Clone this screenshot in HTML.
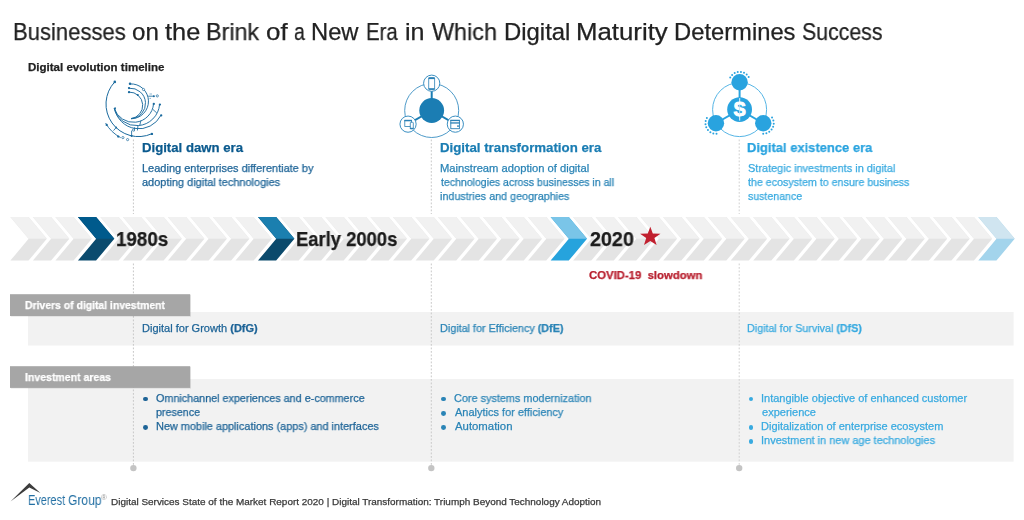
<!DOCTYPE html><html><head><meta charset="utf-8"><style>
html,body{margin:0;padding:0;background:#fff;}
body{width:1024px;height:520px;overflow:hidden;position:relative;font-family:"Liberation Sans",sans-serif;}
.t{position:absolute;white-space:nowrap;will-change:transform;-webkit-text-stroke:0.25px currentColor;}
.t b{font-weight:bold;}
svg{position:absolute;left:0;top:0;}
</style></head><body>
<svg width="1024" height="520" viewBox="0 0 1024 520"><rect x="28" y="312" width="985.6" height="33.5" fill="#f2f2f2"/><rect x="28" y="379" width="985.6" height="82.7" fill="#f2f2f2"/><polygon points="10.40,217.1 28.55,217.1 46.80,238.85 28.55,260.6 10.40,260.6 28.65,238.85" fill="#e4e4e4"/><polygon points="10.40,217.1 28.55,217.1 46.80,238.85 28.65,238.85" fill="#f1f1f1"/><polygon points="32.91,217.1 51.06,217.1 69.31,238.85 51.06,260.6 32.91,260.6 51.16,238.85" fill="#e4e4e4"/><polygon points="32.91,217.1 51.06,217.1 69.31,238.85 51.16,238.85" fill="#f1f1f1"/><polygon points="55.42,217.1 73.57,217.1 91.82,238.85 73.57,260.6 55.42,260.6 73.67,238.85" fill="#e4e4e4"/><polygon points="55.42,217.1 73.57,217.1 91.82,238.85 73.67,238.85" fill="#f1f1f1"/><polygon points="77.93,217.1 96.08,217.1 114.33,238.85 96.08,260.6 77.93,260.6 96.18,238.85" fill="#0b4b6e"/><polygon points="77.93,217.1 96.08,217.1 114.33,238.85 96.18,238.85" fill="#005a8c"/><polygon points="100.44,217.1 118.59,217.1 136.84,238.85 118.59,260.6 100.44,260.6 118.69,238.85" fill="#e4e4e4"/><polygon points="100.44,217.1 118.59,217.1 136.84,238.85 118.69,238.85" fill="#f1f1f1"/><polygon points="122.95,217.1 141.09,217.1 159.34,238.85 141.09,260.6 122.95,260.6 141.19,238.85" fill="#e4e4e4"/><polygon points="122.95,217.1 141.09,217.1 159.34,238.85 141.19,238.85" fill="#f1f1f1"/><polygon points="145.45,217.1 163.60,217.1 181.85,238.85 163.60,260.6 145.45,260.6 163.70,238.85" fill="#e4e4e4"/><polygon points="145.45,217.1 163.60,217.1 181.85,238.85 163.70,238.85" fill="#f1f1f1"/><polygon points="167.96,217.1 186.11,217.1 204.36,238.85 186.11,260.6 167.96,260.6 186.21,238.85" fill="#e4e4e4"/><polygon points="167.96,217.1 186.11,217.1 204.36,238.85 186.21,238.85" fill="#f1f1f1"/><polygon points="190.47,217.1 208.62,217.1 226.87,238.85 208.62,260.6 190.47,260.6 208.72,238.85" fill="#e4e4e4"/><polygon points="190.47,217.1 208.62,217.1 226.87,238.85 208.72,238.85" fill="#f1f1f1"/><polygon points="212.98,217.1 231.13,217.1 249.38,238.85 231.13,260.6 212.98,260.6 231.23,238.85" fill="#e4e4e4"/><polygon points="212.98,217.1 231.13,217.1 249.38,238.85 231.23,238.85" fill="#f1f1f1"/><polygon points="235.49,217.1 253.64,217.1 271.89,238.85 253.64,260.6 235.49,260.6 253.74,238.85" fill="#e4e4e4"/><polygon points="235.49,217.1 253.64,217.1 271.89,238.85 253.74,238.85" fill="#f1f1f1"/><polygon points="258.00,217.1 276.15,217.1 294.40,238.85 276.15,260.6 258.00,260.6 276.25,238.85" fill="#0b4a6c"/><polygon points="258.00,217.1 276.15,217.1 294.40,238.85 276.25,238.85" fill="#1b7faf"/><polygon points="280.51,217.1 298.66,217.1 316.91,238.85 298.66,260.6 280.51,260.6 298.76,238.85" fill="#e4e4e4"/><polygon points="280.51,217.1 298.66,217.1 316.91,238.85 298.76,238.85" fill="#f1f1f1"/><polygon points="303.02,217.1 321.17,217.1 339.42,238.85 321.17,260.6 303.02,260.6 321.27,238.85" fill="#e4e4e4"/><polygon points="303.02,217.1 321.17,217.1 339.42,238.85 321.27,238.85" fill="#f1f1f1"/><polygon points="325.53,217.1 343.68,217.1 361.93,238.85 343.68,260.6 325.53,260.6 343.78,238.85" fill="#e4e4e4"/><polygon points="325.53,217.1 343.68,217.1 361.93,238.85 343.78,238.85" fill="#f1f1f1"/><polygon points="348.03,217.1 366.18,217.1 384.43,238.85 366.18,260.6 348.03,260.6 366.28,238.85" fill="#e4e4e4"/><polygon points="348.03,217.1 366.18,217.1 384.43,238.85 366.28,238.85" fill="#f1f1f1"/><polygon points="370.54,217.1 388.69,217.1 406.94,238.85 388.69,260.6 370.54,260.6 388.79,238.85" fill="#e4e4e4"/><polygon points="370.54,217.1 388.69,217.1 406.94,238.85 388.79,238.85" fill="#f1f1f1"/><polygon points="393.05,217.1 411.20,217.1 429.45,238.85 411.20,260.6 393.05,260.6 411.30,238.85" fill="#e4e4e4"/><polygon points="393.05,217.1 411.20,217.1 429.45,238.85 411.30,238.85" fill="#f1f1f1"/><polygon points="415.56,217.1 433.71,217.1 451.96,238.85 433.71,260.6 415.56,260.6 433.81,238.85" fill="#e4e4e4"/><polygon points="415.56,217.1 433.71,217.1 451.96,238.85 433.81,238.85" fill="#f1f1f1"/><polygon points="438.07,217.1 456.22,217.1 474.47,238.85 456.22,260.6 438.07,260.6 456.32,238.85" fill="#e4e4e4"/><polygon points="438.07,217.1 456.22,217.1 474.47,238.85 456.32,238.85" fill="#f1f1f1"/><polygon points="460.58,217.1 478.73,217.1 496.98,238.85 478.73,260.6 460.58,260.6 478.83,238.85" fill="#e4e4e4"/><polygon points="460.58,217.1 478.73,217.1 496.98,238.85 478.83,238.85" fill="#f1f1f1"/><polygon points="483.09,217.1 501.24,217.1 519.49,238.85 501.24,260.6 483.09,260.6 501.34,238.85" fill="#e4e4e4"/><polygon points="483.09,217.1 501.24,217.1 519.49,238.85 501.34,238.85" fill="#f1f1f1"/><polygon points="505.60,217.1 523.75,217.1 542.00,238.85 523.75,260.6 505.60,260.6 523.85,238.85" fill="#e4e4e4"/><polygon points="505.60,217.1 523.75,217.1 542.00,238.85 523.85,238.85" fill="#f1f1f1"/><polygon points="528.11,217.1 546.26,217.1 564.51,238.85 546.26,260.6 528.11,260.6 546.36,238.85" fill="#e4e4e4"/><polygon points="528.11,217.1 546.26,217.1 564.51,238.85 546.36,238.85" fill="#f1f1f1"/><polygon points="550.62,217.1 568.77,217.1 587.02,238.85 568.77,260.6 550.62,260.6 568.87,238.85" fill="#26a3dd"/><polygon points="550.62,217.1 568.77,217.1 587.02,238.85 568.87,238.85" fill="#7ac5e8"/><polygon points="573.12,217.1 591.27,217.1 609.52,238.85 591.27,260.6 573.12,260.6 591.38,238.85" fill="#e4e4e4"/><polygon points="573.12,217.1 591.27,217.1 609.52,238.85 591.38,238.85" fill="#f1f1f1"/><polygon points="595.63,217.1 613.78,217.1 632.03,238.85 613.78,260.6 595.63,260.6 613.88,238.85" fill="#e4e4e4"/><polygon points="595.63,217.1 613.78,217.1 632.03,238.85 613.88,238.85" fill="#f1f1f1"/><polygon points="618.14,217.1 636.29,217.1 654.54,238.85 636.29,260.6 618.14,260.6 636.39,238.85" fill="#e4e4e4"/><polygon points="618.14,217.1 636.29,217.1 654.54,238.85 636.39,238.85" fill="#f1f1f1"/><polygon points="640.65,217.1 658.80,217.1 677.05,238.85 658.80,260.6 640.65,260.6 658.90,238.85" fill="#e4e4e4"/><polygon points="640.65,217.1 658.80,217.1 677.05,238.85 658.90,238.85" fill="#f1f1f1"/><polygon points="663.16,217.1 681.31,217.1 699.56,238.85 681.31,260.6 663.16,260.6 681.41,238.85" fill="#e4e4e4"/><polygon points="663.16,217.1 681.31,217.1 699.56,238.85 681.41,238.85" fill="#f1f1f1"/><polygon points="685.67,217.1 703.82,217.1 722.07,238.85 703.82,260.6 685.67,260.6 703.92,238.85" fill="#e4e4e4"/><polygon points="685.67,217.1 703.82,217.1 722.07,238.85 703.92,238.85" fill="#f1f1f1"/><polygon points="708.18,217.1 726.33,217.1 744.58,238.85 726.33,260.6 708.18,260.6 726.43,238.85" fill="#e4e4e4"/><polygon points="708.18,217.1 726.33,217.1 744.58,238.85 726.43,238.85" fill="#f1f1f1"/><polygon points="730.69,217.1 748.84,217.1 767.09,238.85 748.84,260.6 730.69,260.6 748.94,238.85" fill="#e4e4e4"/><polygon points="730.69,217.1 748.84,217.1 767.09,238.85 748.94,238.85" fill="#f1f1f1"/><polygon points="753.20,217.1 771.35,217.1 789.60,238.85 771.35,260.6 753.20,260.6 771.45,238.85" fill="#e4e4e4"/><polygon points="753.20,217.1 771.35,217.1 789.60,238.85 771.45,238.85" fill="#f1f1f1"/><polygon points="775.71,217.1 793.86,217.1 812.11,238.85 793.86,260.6 775.71,260.6 793.96,238.85" fill="#e4e4e4"/><polygon points="775.71,217.1 793.86,217.1 812.11,238.85 793.96,238.85" fill="#f1f1f1"/><polygon points="798.22,217.1 816.37,217.1 834.62,238.85 816.37,260.6 798.22,260.6 816.47,238.85" fill="#e4e4e4"/><polygon points="798.22,217.1 816.37,217.1 834.62,238.85 816.47,238.85" fill="#f1f1f1"/><polygon points="820.72,217.1 838.87,217.1 857.12,238.85 838.87,260.6 820.72,260.6 838.97,238.85" fill="#e4e4e4"/><polygon points="820.72,217.1 838.87,217.1 857.12,238.85 838.97,238.85" fill="#f1f1f1"/><polygon points="843.23,217.1 861.38,217.1 879.63,238.85 861.38,260.6 843.23,260.6 861.48,238.85" fill="#e4e4e4"/><polygon points="843.23,217.1 861.38,217.1 879.63,238.85 861.48,238.85" fill="#f1f1f1"/><polygon points="865.74,217.1 883.89,217.1 902.14,238.85 883.89,260.6 865.74,260.6 883.99,238.85" fill="#e4e4e4"/><polygon points="865.74,217.1 883.89,217.1 902.14,238.85 883.99,238.85" fill="#f1f1f1"/><polygon points="888.25,217.1 906.40,217.1 924.65,238.85 906.40,260.6 888.25,260.6 906.50,238.85" fill="#e4e4e4"/><polygon points="888.25,217.1 906.40,217.1 924.65,238.85 906.50,238.85" fill="#f1f1f1"/><polygon points="910.76,217.1 928.91,217.1 947.16,238.85 928.91,260.6 910.76,260.6 929.01,238.85" fill="#e4e4e4"/><polygon points="910.76,217.1 928.91,217.1 947.16,238.85 929.01,238.85" fill="#f1f1f1"/><polygon points="933.27,217.1 951.42,217.1 969.67,238.85 951.42,260.6 933.27,260.6 951.52,238.85" fill="#e4e4e4"/><polygon points="933.27,217.1 951.42,217.1 969.67,238.85 951.52,238.85" fill="#f1f1f1"/><polygon points="955.78,217.1 973.93,217.1 992.18,238.85 973.93,260.6 955.78,260.6 974.03,238.85" fill="#e4e4e4"/><polygon points="955.78,217.1 973.93,217.1 992.18,238.85 974.03,238.85" fill="#f1f1f1"/><polygon points="978.29,217.1 996.44,217.1 1014.69,238.85 996.44,260.6 978.29,260.6 996.54,238.85" fill="#a3d4ec"/><polygon points="978.29,217.1 996.44,217.1 1014.69,238.85 996.54,238.85" fill="#d0e5f0"/><line x1="133.4" y1="139.5" x2="133.4" y2="214" stroke="#c8c8c8" stroke-width="1" stroke-dasharray="1.8 1.7"/><line x1="133.4" y1="263.5" x2="133.4" y2="465" stroke="#c8c8c8" stroke-width="1" stroke-dasharray="1.8 1.7"/><circle cx="133.4" cy="468.1" r="3.2" fill="#c4c4c4"/><line x1="431.3" y1="139.5" x2="431.3" y2="214" stroke="#c8c8c8" stroke-width="1" stroke-dasharray="1.8 1.7"/><line x1="431.3" y1="263.5" x2="431.3" y2="465" stroke="#c8c8c8" stroke-width="1" stroke-dasharray="1.8 1.7"/><circle cx="431.3" cy="468.1" r="3.2" fill="#c4c4c4"/><line x1="739.2" y1="139.5" x2="739.2" y2="214" stroke="#d0d0d0" stroke-width="1" stroke-dasharray="1.8 1.7"/><line x1="739.2" y1="263.5" x2="739.2" y2="465" stroke="#d0d0d0" stroke-width="1" stroke-dasharray="1.8 1.7"/><circle cx="739.2" cy="468.1" r="3.2" fill="#c4c4c4"/><rect x="10.8" y="295" width="180.2" height="21.8" fill="#000" opacity="0.08"/><rect x="10.8" y="367" width="180.2" height="21.7" fill="#000" opacity="0.08"/><rect x="10" y="294.2" width="180.2" height="21.8" fill="#a6a6a6"/><rect x="10" y="366.2" width="180.2" height="21.7" fill="#a6a6a6"/><g transform="translate(650.3,236.8) scale(1,0.95)"><polygon points="0.00,-10.70 2.53,-3.48 10.18,-3.31 4.09,1.33 6.29,8.66 0.00,4.30 -6.29,8.66 -4.09,1.33 -10.18,-3.31 -2.53,-3.48" fill="#c1202f"/></g><circle cx="431.7" cy="110.5" r="27" fill="none" stroke="#3a8fc2" stroke-width="0.9"/><line x1="431.7" y1="110.5" x2="431.70" y2="83.20" stroke="#1b7db3" stroke-width="2"/><line x1="431.7" y1="110.5" x2="408.06" y2="124.15" stroke="#1b7db3" stroke-width="2"/><line x1="431.7" y1="110.5" x2="455.34" y2="124.15" stroke="#1b7db3" stroke-width="2"/><circle cx="431.7" cy="110.5" r="12.4" fill="#1b7db3"/><circle cx="431.70" cy="83.20" r="8.1" fill="#fff" stroke="#3a8fc2" stroke-width="1"/><circle cx="408.06" cy="124.15" r="8.1" fill="#fff" stroke="#3a8fc2" stroke-width="1"/><circle cx="455.34" cy="124.15" r="8.1" fill="#fff" stroke="#3a8fc2" stroke-width="1"/><rect x="428.7" y="77.7" width="5.9" height="11.8" rx="0.8" fill="none" stroke="#2a80b5" stroke-width="0.8"/><rect x="428.5" y="77.4" width="6.3" height="1.7" fill="#2a80b5"/><rect x="428.5" y="88.2" width="6.3" height="1.5" fill="#2a80b5"/><rect x="404.8" y="120.3" width="6.8" height="6.2" fill="none" stroke="#2a80b5" stroke-width="0.8"/><rect x="404.4" y="119.9" width="7.6" height="1.4" fill="#2a80b5"/><rect x="410.3" y="122.3" width="3" height="6.5" rx="0.6" fill="#fff" stroke="#2a80b5" stroke-width="0.8"/><rect x="409.9" y="127.8" width="3.8" height="1.3" fill="#2a80b5"/><rect x="450.8" y="120.3" width="8.6" height="8.4" fill="none" stroke="#2a80b5" stroke-width="0.9"/><rect x="450.4" y="119.9" width="9.4" height="1.2" fill="#2a80b5"/><rect x="450.4" y="122.3" width="9.4" height="1.3" fill="#2a80b5"/><rect x="457.1" y="125.4" width="1.8" height="1.4" fill="#2a80b5"/><circle cx="739.6" cy="109.6" r="27" fill="none" stroke="#43ade2" stroke-width="0.9"/><line x1="739.6" y1="109.6" x2="739.60" y2="82.30" stroke="#29a3df" stroke-width="2"/><line x1="739.6" y1="109.6" x2="715.96" y2="123.25" stroke="#29a3df" stroke-width="2"/><line x1="739.6" y1="109.6" x2="763.24" y2="123.25" stroke="#29a3df" stroke-width="2"/><circle cx="739.6" cy="109.6" r="12.4" fill="#29a3df"/><circle cx="739.60" cy="82.30" r="8.2" fill="#29a3df"/><circle cx="715.96" cy="123.25" r="8.2" fill="#29a3df"/><circle cx="763.24" cy="123.25" r="8.2" fill="#29a3df"/><circle cx="730.24" cy="77.55" r="1.0" fill="#29a3df"/><circle cx="732.11" cy="74.94" r="1.0" fill="#29a3df"/><circle cx="734.69" cy="73.02" r="1.0" fill="#29a3df"/><circle cx="737.72" cy="71.97" r="1.0" fill="#29a3df"/><circle cx="740.93" cy="71.89" r="1.0" fill="#29a3df"/><circle cx="744.02" cy="72.78" r="1.0" fill="#29a3df"/><circle cx="746.69" cy="74.56" r="1.0" fill="#29a3df"/><circle cx="748.70" cy="77.07" r="1.0" fill="#29a3df"/><circle cx="716.53" cy="133.73" r="1.0" fill="#29a3df"/><circle cx="713.33" cy="133.42" r="1.0" fill="#29a3df"/><circle cx="710.38" cy="132.14" r="1.0" fill="#29a3df"/><circle cx="707.95" cy="130.04" r="1.0" fill="#29a3df"/><circle cx="706.27" cy="127.30" r="1.0" fill="#29a3df"/><circle cx="705.50" cy="124.18" r="1.0" fill="#29a3df"/><circle cx="705.71" cy="120.98" r="1.0" fill="#29a3df"/><circle cx="706.87" cy="117.98" r="1.0" fill="#29a3df"/><circle cx="772.04" cy="117.52" r="1.0" fill="#29a3df"/><circle cx="773.36" cy="120.44" r="1.0" fill="#29a3df"/><circle cx="773.74" cy="123.63" r="1.0" fill="#29a3df"/><circle cx="773.13" cy="126.79" r="1.0" fill="#29a3df"/><circle cx="771.59" cy="129.61" r="1.0" fill="#29a3df"/><circle cx="769.28" cy="131.84" r="1.0" fill="#29a3df"/><circle cx="766.40" cy="133.26" r="1.0" fill="#29a3df"/><circle cx="763.22" cy="133.75" r="1.0" fill="#29a3df"/><line x1="739.70" y1="98.10" x2="739.70" y2="120.60" stroke="#fff" stroke-width="0.9"/><text transform="translate(739.70,116.10) scale(0.93,1)" text-anchor="middle" font-family="Liberation Sans" font-weight="bold" font-size="20" fill="#fff" stroke="#fff" stroke-width="1.0">S</text><line x1="739.70" y1="104.60" x2="739.70" y2="114.60" stroke="#29a3df" stroke-width="0.5" opacity="0.6"/><path d="M114.77,81.89 A32.5,32.5 0 0 0 151.82,133.74" fill="none" stroke="#1a6a9e" stroke-width="1.0"/><path d="M130.03,83.94 A17.43,17.43 0 1 1 131.00,118.77" fill="none" stroke="#1a6a9e" stroke-width="0.95"/><path d="M129.00,88.23 A15.25,15.25 0 1 1 131.00,118.66" fill="none" stroke="#1a6a9e" stroke-width="0.95"/><path d="M129.01,92.10 A13.28,13.28 0 0 1 131.00,118.56" fill="none" stroke="#1a6a9e" stroke-width="0.95"/><path d="M114.23,108.21 A20.16,20.16 0 0 0 153.55,103.84" fill="none" stroke="#1a6a9e" stroke-width="0.95"/><path d="M114.16,108.20 A23.09,23.09 0 0 0 159.56,104.54" fill="none" stroke="#1a6a9e" stroke-width="0.95"/><path d="M114.53,108.06 A24.7,24.7 0 0 0 160.94,115.25" fill="none" stroke="#1a6a9e" stroke-width="0.95"/><path d="M120.66,137.65 A38,38 0 0 1 105.59,123.10" fill="none" stroke="#1a6a9e" stroke-width="0.9"/><line x1="113.5" y1="130.6" x2="116.2" y2="127.5" stroke="#1a6a9e" stroke-width="0.85"/><line x1="131.6" y1="130.6" x2="131.6" y2="136" stroke="#1a6a9e" stroke-width="0.85"/><line x1="134.7" y1="127.2" x2="134.2" y2="131.2" stroke="#1a6a9e" stroke-width="0.85"/><line x1="138" y1="125.2" x2="137.4" y2="130.5" stroke="#1a6a9e" stroke-width="0.85"/><line x1="140.8" y1="120.8" x2="139.8" y2="125.2" stroke="#1a6a9e" stroke-width="0.85"/><line x1="152.9" y1="109.4" x2="156.9" y2="113.1" stroke="#1a6a9e" stroke-width="0.85"/><line x1="148.2" y1="96.2" x2="154" y2="96.2" stroke="#1a6a9e" stroke-width="0.85"/><circle cx="114.8" cy="81.9" r="1.3" fill="#1a6a9e"/><circle cx="151.9" cy="133.9" r="1.2" fill="#1a6a9e"/><circle cx="130" cy="83.7" r="1.25" fill="#1a6a9e"/><circle cx="129" cy="88.1" r="1.15" fill="#1a6a9e"/><circle cx="129" cy="92.2" r="1.15" fill="#1a6a9e"/><circle cx="153.9" cy="96.2" r="1.0" fill="#1a6a9e"/><circle cx="153.8" cy="103.9" r="1.15" fill="#1a6a9e"/><circle cx="159.9" cy="104.6" r="1.15" fill="#1a6a9e"/><circle cx="161.2" cy="115.4" r="1.15" fill="#1a6a9e"/><circle cx="106.7" cy="124.9" r="1.15" fill="#1a6a9e"/><circle cx="118.2" cy="136.6" r="1.15" fill="#1a6a9e"/><circle cx="137.8" cy="94.9" r="1.0" fill="#1a6a9e"/><circle cx="131.6" cy="136" r="1.0" fill="#1a6a9e"/><circle cx="116.2" cy="127.5" r="0.9" fill="#1a6a9e"/><circle cx="115.1" cy="108.2" r="0.9" fill="#1a6a9e"/><circle cx="122.9" cy="137.6" r="1.1" fill="#fff" stroke="#1a6a9e" stroke-width="0.7"/><circle cx="127.6" cy="139.6" r="1.1" fill="#fff" stroke="#1a6a9e" stroke-width="0.7"/><circle cx="157.3" cy="95.9" r="1.1" fill="#fff" stroke="#1a6a9e" stroke-width="0.7"/><circle cx="143.5" cy="89.5" r="1.1" fill="#fff" stroke="#1a6a9e" stroke-width="0.7"/><circle cx="133.5" cy="130" r="1.1" fill="#fff" stroke="#1a6a9e" stroke-width="0.7"/><line x1="149.5" y1="94" x2="152" y2="94" stroke="#1a6a9e" stroke-width="0.5"/><line x1="149.5" y1="98.4" x2="151" y2="98.4" stroke="#1a6a9e" stroke-width="0.5"/><polygon points="10.5,501.6 29.3,483.1 40.4,492.9 29.3,487.6" fill="#3d3d3d"/></svg><div class="t" style="left:13.19px;top:19.00px;font-size:23.7px;line-height:26px;color:#222222;font-weight:normal;transform:scale(0.9312,1.000);transform-origin:0 21px;">Businesses</div>
<div class="t" style="left:132.49px;top:19.00px;font-size:23.7px;line-height:26px;color:#222222;font-weight:normal;transform:scale(1.0177,1.000);transform-origin:0 21px;">on</div>
<div class="t" style="left:165.22px;top:19.00px;font-size:23.7px;line-height:26px;color:#222222;font-weight:normal;transform:scale(1.0718,1.000);transform-origin:0 21px;">the</div>
<div class="t" style="left:206.19px;top:19.00px;font-size:23.7px;line-height:26px;color:#222222;font-weight:normal;transform:scale(0.9848,1.000);transform-origin:0 21px;">Brink</div>
<div class="t" style="left:265.81px;top:19.00px;font-size:23.7px;line-height:26px;color:#222222;font-weight:normal;transform:scale(1.0955,1.000);transform-origin:0 21px;">of</div>
<div class="t" style="left:293.57px;top:19.00px;font-size:23.7px;line-height:26px;color:#222222;font-weight:normal;transform:scale(0.8214,1.000);transform-origin:0 21px;">a</div>
<div class="t" style="left:311.15px;top:19.00px;font-size:23.7px;line-height:26px;color:#222222;font-weight:normal;transform:scale(1.0027,1.000);transform-origin:0 21px;">New</div>
<div class="t" style="left:366.08px;top:19.00px;font-size:23.7px;line-height:26px;color:#222222;font-weight:normal;transform:scale(0.8586,1.000);transform-origin:0 21px;">Era</div>
<div class="t" style="left:405.22px;top:19.00px;font-size:23.7px;line-height:26px;color:#222222;font-weight:normal;transform:scale(1.0573,1.000);transform-origin:0 21px;">in</div>
<div class="t" style="left:432.15px;top:19.00px;font-size:23.7px;line-height:26px;color:#222222;font-weight:normal;transform:scale(0.9867,1.000);transform-origin:0 21px;">Which</div>
<div class="t" style="left:503.64px;top:19.00px;font-size:23.7px;line-height:26px;color:#222222;font-weight:normal;transform:scale(1.0091,1.000);transform-origin:0 21px;">Digital</div>
<div class="t" style="left:575.98px;top:19.00px;font-size:23.7px;line-height:26px;color:#222222;font-weight:normal;transform:scale(1.0894,1.000);transform-origin:0 21px;">Maturity</div>
<div class="t" style="left:674.30px;top:19.00px;font-size:23.7px;line-height:26px;color:#222222;font-weight:normal;transform:scale(1.0032,1.000);transform-origin:0 21px;">Determines</div>
<div class="t" style="left:802.13px;top:19.00px;font-size:23.7px;line-height:26px;color:#222222;font-weight:normal;transform:scale(0.8991,1.000);transform-origin:0 21px;">Success</div>
<div class="t" style="left:28.43px;top:61.00px;font-size:11.3px;line-height:12px;color:#222222;font-weight:bold;transform:scale(1.0204,1.000);transform-origin:0 10px;">Digital evolution timeline</div>
<div class="t" style="left:141.92px;top:140.00px;font-size:13.1px;line-height:15px;color:#0b5a8e;font-weight:bold;transform:scale(1.0054,1.000);transform-origin:0 12px;">Digital dawn era</div>
<div class="t" style="left:439.81px;top:140.00px;font-size:13.1px;line-height:15px;color:#1b7db3;font-weight:bold;transform:scale(1.0125,1.000);transform-origin:0 12px;">Digital transformation era</div>
<div class="t" style="left:747.33px;top:140.00px;font-size:13.1px;line-height:15px;color:#29a3df;font-weight:bold;transform:scale(0.9896,1.000);transform-origin:0 12px;">Digital existence era</div>
<div class="t" style="left:141.80px;top:162.00px;font-size:11px;line-height:12px;color:#1e6497;font-weight:normal;transform:scale(0.9987,1.000);transform-origin:0 10px;">Leading enterprises differentiate by</div>
<div class="t" style="left:142.23px;top:176.00px;font-size:11px;line-height:12px;color:#1e6497;font-weight:normal;transform:scale(0.9952,1.000);transform-origin:0 10px;">adopting digital technologies</div>
<div class="t" style="left:439.78px;top:162.00px;font-size:11px;line-height:12px;color:#2a84b6;font-weight:normal;transform:scale(1.0164,1.000);transform-origin:0 10px;">Mainstream adoption of digital</div>
<div class="t" style="left:440.54px;top:176.00px;font-size:11px;line-height:12px;color:#2a84b6;font-weight:normal;transform:scale(0.9567,1.000);transform-origin:0 10px;">technologies across businesses in all</div>
<div class="t" style="left:439.98px;top:190.00px;font-size:11px;line-height:12px;color:#2a84b6;font-weight:normal;transform:scale(0.9797,1.000);transform-origin:0 10px;">industries and geographies</div>
<div class="t" style="left:747.71px;top:162.00px;font-size:11px;line-height:12px;color:#38aae0;font-weight:normal;transform:scale(0.9909,1.000);transform-origin:0 10px;">Strategic investments in digital</div>
<div class="t" style="left:748.04px;top:176.00px;font-size:11px;line-height:12px;color:#38aae0;font-weight:normal;transform:scale(0.9707,1.000);transform-origin:0 10px;">the ecosystem to ensure business</div>
<div class="t" style="left:747.91px;top:190.00px;font-size:11px;line-height:12px;color:#38aae0;font-weight:normal;transform:scale(0.9609,1.000);transform-origin:0 10px;">sustenance</div>
<div class="t" style="left:115.62px;top:228.00px;font-size:19.9px;line-height:22px;color:#1c1c1c;font-weight:bold;transform:scale(0.9443,1.000);transform-origin:0 18px;">1980s</div>
<div class="t" style="left:296.27px;top:228.00px;font-size:19.9px;line-height:22px;color:#1c1c1c;font-weight:bold;transform:scale(0.9255,1.000);transform-origin:0 18px;">Early 2000s</div>
<div class="t" style="left:589.62px;top:228.00px;font-size:19.9px;line-height:22px;color:#1c1c1c;font-weight:bold;transform:scale(0.9915,1.000);transform-origin:0 18px;">2020</div>
<div class="t" style="left:589.24px;top:269.00px;font-size:11.5px;line-height:12px;color:#b8202f;font-weight:bold;transform:scale(0.9857,1.000);transform-origin:0 10px;">COVID-19&nbsp; slowdown</div>
<div class="t" style="left:25.20px;top:299.00px;font-size:11px;line-height:12px;color:#ffffff;font-weight:bold;transform:scale(0.9459,1.000);transform-origin:0 10px;">Drivers of digital investment</div>
<div class="t" style="left:25.20px;top:371.00px;font-size:11px;line-height:12px;color:#ffffff;font-weight:bold;transform:scale(0.9561,1.000);transform-origin:0 10px;">Investment areas</div>
<div class="t" style="left:141.70px;top:322.00px;font-size:11px;line-height:12px;color:#1e6497;font-weight:normal;transform:scale(1.0020,1.000);transform-origin:0 10px;">Digital for Growth <b>(DfG)</b></div>
<div class="t" style="left:439.61px;top:322.00px;font-size:11px;line-height:12px;color:#2a84b6;font-weight:normal;transform:scale(0.9825,1.000);transform-origin:0 10px;">Digital for Efficiency <b>(DfE)</b></div>
<div class="t" style="left:747.22px;top:322.00px;font-size:11px;line-height:12px;color:#38aae0;font-weight:normal;transform:scale(0.9741,1.000);transform-origin:0 10px;">Digital for Survival <b>(DfS)</b></div>
<div style="position:absolute;left:142.90px;top:396.70px;width:4.8px;height:4.8px;border-radius:50%;background:#1e6497"></div>
<div class="t" style="left:156.49px;top:392.00px;font-size:11px;line-height:12px;color:#1e6497;font-weight:normal;transform:scale(0.9803,1.000);transform-origin:0 10px;">Omnichannel experiences and e-commerce</div>
<div class="t" style="left:156.31px;top:406.00px;font-size:11px;line-height:12px;color:#1e6497;font-weight:normal;transform:scale(0.9715,1.000);transform-origin:0 10px;">presence</div>
<div style="position:absolute;left:142.90px;top:425.00px;width:4.8px;height:4.8px;border-radius:50%;background:#1e6497"></div>
<div class="t" style="left:156.11px;top:420.00px;font-size:11px;line-height:12px;color:#1e6497;font-weight:normal;transform:scale(0.9901,1.000);transform-origin:0 10px;">New mobile applications (apps) and interfaces</div>
<div style="position:absolute;left:440.90px;top:396.70px;width:4.8px;height:4.8px;border-radius:50%;background:#2a84b6"></div>
<div class="t" style="left:454.15px;top:392.00px;font-size:11px;line-height:12px;color:#2a84b6;font-weight:normal;transform:scale(0.9869,1.000);transform-origin:0 10px;">Core systems modernization</div>
<div style="position:absolute;left:440.90px;top:410.85px;width:4.8px;height:4.8px;border-radius:50%;background:#2a84b6"></div>
<div class="t" style="left:454.68px;top:406.00px;font-size:11px;line-height:12px;color:#2a84b6;font-weight:normal;transform:scale(0.9974,1.000);transform-origin:0 10px;">Analytics for efficiency</div>
<div style="position:absolute;left:440.90px;top:425.00px;width:4.8px;height:4.8px;border-radius:50%;background:#2a84b6"></div>
<div class="t" style="left:454.68px;top:420.00px;font-size:11px;line-height:12px;color:#2a84b6;font-weight:normal;transform:scale(1.0326,1.000);transform-origin:0 10px;">Automation</div>
<div style="position:absolute;left:748.50px;top:396.70px;width:4.8px;height:4.8px;border-radius:50%;background:#38aae0"></div>
<div class="t" style="left:761.28px;top:392.00px;font-size:11px;line-height:12px;color:#38aae0;font-weight:normal;transform:scale(1.0001,1.000);transform-origin:0 10px;">Intangible objective of enhanced customer</div>
<div class="t" style="left:761.83px;top:406.00px;font-size:11px;line-height:12px;color:#38aae0;font-weight:normal;transform:scale(1.0027,1.000);transform-origin:0 10px;">experience</div>
<div style="position:absolute;left:748.50px;top:425.00px;width:4.8px;height:4.8px;border-radius:50%;background:#38aae0"></div>
<div class="t" style="left:761.40px;top:420.00px;font-size:11px;line-height:12px;color:#38aae0;font-weight:normal;transform:scale(1.0007,1.000);transform-origin:0 10px;">Digitalization of enterprise ecosystem</div>
<div style="position:absolute;left:748.50px;top:439.15px;width:4.8px;height:4.8px;border-radius:50%;background:#38aae0"></div>
<div class="t" style="left:761.29px;top:434.00px;font-size:11px;line-height:12px;color:#38aae0;font-weight:normal;transform:scale(0.9955,1.000);transform-origin:0 10px;">Investment in new age technologies</div>
<div class="t" style="left:27.60px;top:492.00px;font-size:14.5px;line-height:16px;color:#226fa3;font-weight:normal;transform:scale(0.7542,1.000);transform-origin:0 13px;-webkit-text-stroke:0;">Everest</div>
<div class="t" style="left:68.09px;top:492.00px;font-size:14.5px;line-height:16px;color:#226fa3;font-weight:normal;transform:scale(0.8316,1.000);transform-origin:0 13px;-webkit-text-stroke:0;">Group</div>
<div class="t" style="left:101.28px;top:493.00px;font-size:8px;line-height:9px;color:#9a9a9a;font-weight:normal;transform:scale(1.0000,1.000);transform-origin:0 7px;-webkit-text-stroke:0;">®</div>
<div class="t" style="left:110.58px;top:496.00px;font-size:9.4px;line-height:11px;color:#3a3a3a;font-weight:normal;transform:scale(1.0612,1.000);transform-origin:0 9px;">Digital Services State of the Market Report 2020 | Digital Transformation: Triumph Beyond Technology Adoption</div>
</body></html>
